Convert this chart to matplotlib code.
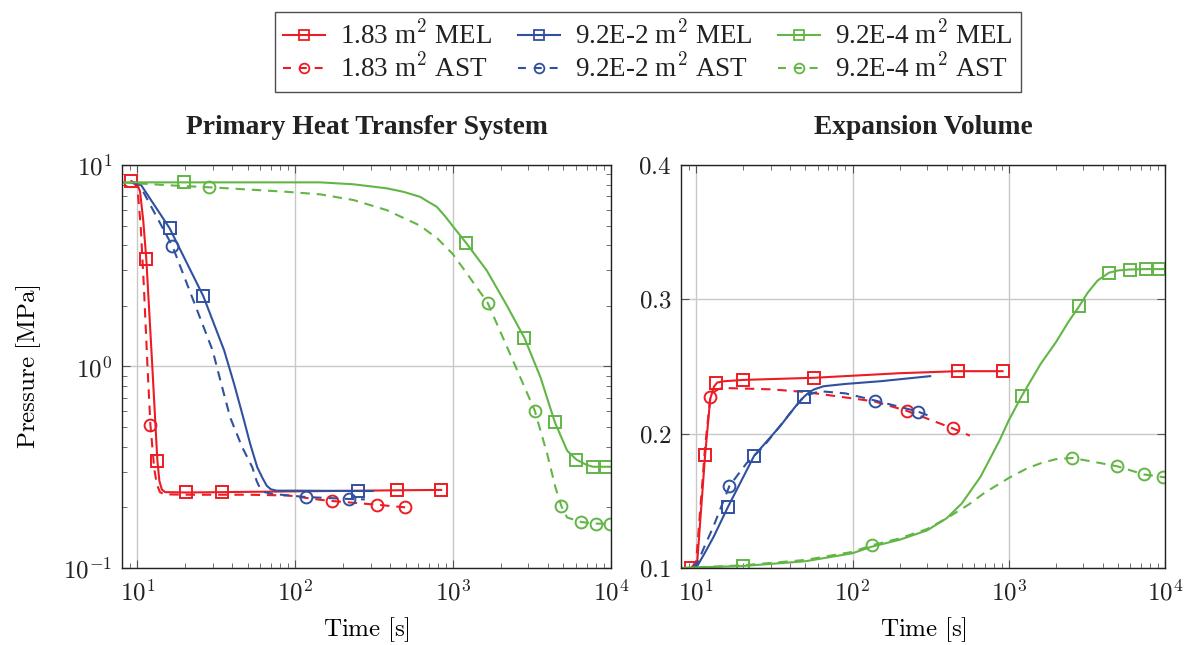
import numpy as np
import matplotlib
matplotlib.use('Agg')
import matplotlib.pyplot as plt
from matplotlib.lines import Line2D
from matplotlib.ticker import LogLocator, NullFormatter, NullLocator, FuncFormatter

plt.rcParams['font.family'] = ['Liberation Serif', 'DejaVu Serif']
plt.rcParams['mathtext.fontset'] = 'cm'
plt.rcParams['mathtext.default'] = 'rm'
plt.rcParams['text.color'] = '#222222'

RED = '#ED1C24'
BLUE = '#3050A0'
GREEN = '#62B646'

labels = ['1.83 m$^2$ MEL', '9.2E-2 m$^2$ MEL', '9.2E-4 m$^2$ MEL',
          '1.83 m$^2$ AST', '9.2E-2 m$^2$ AST', '9.2E-4 m$^2$ AST']

# ---- Primary Heat Transfer System: pressure [MPa] ----
phts_red_mel_t = [9.16, 10.0, 10.4, 10.9, 11.4, 12.4, 13.4, 13.8, 14.3, 15.0, 20.4, 35, 100, 443, 840]
phts_red_mel_p = [8.32, 8.0, 7.4, 5.3, 3.41, 1.05, 0.34, 0.27, 0.245, 0.238, 0.237, 0.238, 0.240, 0.243, 0.244]
phts_red_ast_t = [9.16, 10.0, 10.5, 11.0, 11.6, 12.1, 12.8, 13.3, 13.9, 14.8, 20, 50, 90, 144, 171, 330, 497]
phts_red_ast_p = [8.32, 7.8, 5.0, 2.5, 1.0, 0.514, 0.31, 0.26, 0.238, 0.232, 0.231, 0.231, 0.229, 0.218, 0.215, 0.206, 0.200]
phts_blue_mel_t = [9.2, 10.4, 16.0, 26.2, 35.5, 41, 46.9, 52, 57.5, 62, 66, 70, 76, 100, 250, 310]
phts_blue_mel_p = [8.2, 8.1, 4.86, 2.23, 1.2, 0.82, 0.557, 0.41, 0.316, 0.28, 0.256, 0.246, 0.242, 0.242, 0.241, 0.241]
phts_blue_ast_t = [9.2, 10.3, 16.7, 30, 34, 38.8, 46, 53.5, 57, 60, 64, 72, 117, 220, 276]
phts_blue_ast_p = [8.2, 8.0, 3.95, 1.2, 0.82, 0.557, 0.40, 0.316, 0.27, 0.248, 0.238, 0.233, 0.225, 0.220, 0.219]
phts_green_mel_t = [8, 20, 144, 234, 380, 485, 618, 698, 789, 889, 1000, 1205, 1632, 2188, 2825, 3575, 4415,
                    5280, 6040, 7000, 7680, 9250, 10000]
phts_green_mel_p = [8.2, 8.2, 8.2, 8.02, 7.66, 7.36, 6.95, 6.56, 6.2, 5.57, 4.95, 4.12, 3.0, 2.01, 1.39, 0.885,
                    0.528, 0.382, 0.345, 0.325, 0.318, 0.318, 0.318]
phts_green_ast_t = [8, 15, 33.5, 88.5, 144, 234, 380, 618, 800, 1000, 1240, 1656, 2300, 3290, 3945, 4456, 4860,
                    5280, 6500, 8020, 10000]
phts_green_ast_p = [8.2, 7.95, 7.7, 7.36, 7.15, 6.7, 5.97, 5.0, 4.3, 3.6, 2.85, 2.07, 1.15, 0.604, 0.368, 0.25,
                    0.202, 0.178, 0.169, 0.166, 0.166]
# marker positions
phts_red_mel_mt = [9.16, 11.4, 13.4, 20.4, 34.5, 443, 840]
phts_red_mel_mp = [8.32, 3.41, 0.34, 0.237, 0.238, 0.243, 0.244]
phts_red_ast_mt = [12.1, 171, 330, 497]
phts_red_ast_mp = [0.514, 0.215, 0.206, 0.200]
phts_blue_mel_mt = [16.0, 26.2, 250]
phts_blue_mel_mp = [4.86, 2.23, 0.241]
phts_blue_ast_mt = [16.7, 117, 220]
phts_blue_ast_mp = [3.95, 0.225, 0.220]
phts_green_mel_mt = [19.8, 1205, 2825, 4415, 6040, 7680, 9250]
phts_green_mel_mp = [8.2, 4.12, 1.39, 0.528, 0.345, 0.318, 0.318]
phts_green_ast_mt = [28.6, 1656, 3290, 4860, 6500, 8020, 9800]
phts_green_ast_mp = [7.75, 2.07, 0.604, 0.202, 0.169, 0.166, 0.166]

# ---- Expansion Volume: pressure [MPa] ----
ev_red_mel_t = [9.3, 10.1, 11.4, 12.3, 13.0, 13.6, 15, 20, 57, 200, 471, 912]
ev_red_mel_p = [0.100, 0.101, 0.184, 0.226, 0.235, 0.238, 0.239, 0.240, 0.2416, 0.245, 0.2465, 0.2465]
ev_red_ast_t = [9.3, 10.0, 11.4, 12.3, 13.0, 13.8, 14.9, 30, 50, 138, 222, 437, 563]
ev_red_ast_p = [0.100, 0.105, 0.190, 0.227, 0.231, 0.233, 0.234, 0.233, 0.231, 0.224, 0.217, 0.204, 0.1985]
ev_blue_mel_t = [9.5, 10.1, 11.2, 12.9, 16.0, 23.5, 34.4, 43, 49, 53, 57, 65.3, 90, 150, 314]
ev_blue_mel_p = [0.100, 0.101, 0.110, 0.123, 0.1457, 0.1836, 0.2055, 0.220, 0.2275, 0.231, 0.233, 0.2353, 0.237,
                 0.239, 0.2428]
ev_blue_ast_t = [9.5, 10.3, 11.2, 12.9, 16.3, 21, 27, 40, 49, 62, 90, 140, 263, 307]
ev_blue_ast_p = [0.100, 0.105, 0.115, 0.131, 0.161, 0.178, 0.1905, 0.2154, 0.228, 0.2316, 0.230, 0.2246, 0.2164, 0.2134]
ev_green_mel_t = [8, 20, 50, 100, 134, 200, 300, 400, 500, 660, 873, 1000, 1210, 1600, 2000, 2400, 2825, 3200,
                  3700, 4375, 5000, 5940, 7510, 9080, 10000]
ev_green_mel_p = [0.100, 0.1015, 0.105, 0.111, 0.116, 0.121, 0.128, 0.137, 0.148, 0.168, 0.195, 0.210, 0.228,
                  0.252, 0.268, 0.283, 0.295, 0.305, 0.314, 0.3198, 0.3215, 0.3222, 0.3225, 0.3225, 0.3225]
ev_green_ast_t = [8, 20, 50, 100, 134, 200, 300, 400, 550, 700, 1000, 1300, 1600, 2000, 2550, 3500, 4940, 7330,
                  9750, 10000]
ev_green_ast_p = [0.100, 0.102, 0.106, 0.112, 0.117, 0.122, 0.129, 0.137, 0.147, 0.156, 0.167, 0.174, 0.178,
                  0.181, 0.1819, 0.179, 0.1757, 0.1696, 0.1676, 0.1675]
ev_red_mel_mt = [9.3, 11.4, 13.4, 20, 57, 471, 912]
ev_red_mel_mp = [0.100, 0.184, 0.238, 0.240, 0.2416, 0.2465, 0.2465]
ev_red_ast_mt = [12.3, 222, 437]
ev_red_ast_mp = [0.227, 0.217, 0.204]
ev_blue_mel_mt = [16.0, 23.5, 49]
ev_blue_mel_mp = [0.1457, 0.1836, 0.2275]
ev_blue_ast_mt = [16.3, 140, 263]
ev_blue_ast_mp = [0.161, 0.2246, 0.2164]
ev_green_mel_mt = [20, 1210, 2825, 4375, 5940, 7510, 9080]
ev_green_mel_mp = [0.1015, 0.228, 0.295, 0.3198, 0.3222, 0.3225, 0.3225]
ev_green_ast_mt = [134, 2550, 4940, 7330, 9750]
ev_green_ast_mp = [0.117, 0.1819, 0.1757, 0.1696, 0.1676]

phts = [
    (phts_red_mel_t, phts_red_mel_p, phts_red_mel_mt, phts_red_mel_mp, RED, '-', 's'),
    (phts_red_ast_t, phts_red_ast_p, phts_red_ast_mt, phts_red_ast_mp, RED, '--', 'o'),
    (phts_blue_mel_t, phts_blue_mel_p, phts_blue_mel_mt, phts_blue_mel_mp, BLUE, '-', 's'),
    (phts_blue_ast_t, phts_blue_ast_p, phts_blue_ast_mt, phts_blue_ast_mp, BLUE, '--', 'o'),
    (phts_green_mel_t, phts_green_mel_p, phts_green_mel_mt, phts_green_mel_mp, GREEN, '-', 's'),
    (phts_green_ast_t, phts_green_ast_p, phts_green_ast_mt, phts_green_ast_mp, GREEN, '--', 'o'),
]
ev = [
    (ev_red_mel_t, ev_red_mel_p, ev_red_mel_mt, ev_red_mel_mp, RED, '-', 's'),
    (ev_red_ast_t, ev_red_ast_p, ev_red_ast_mt, ev_red_ast_mp, RED, '--', 'o'),
    (ev_blue_mel_t, ev_blue_mel_p, ev_blue_mel_mt, ev_blue_mel_mp, BLUE, '-', 's'),
    (ev_blue_ast_t, ev_blue_ast_p, ev_blue_ast_mt, ev_blue_ast_mp, BLUE, '--', 'o'),
    (ev_green_mel_t, ev_green_mel_p, ev_green_mel_mt, ev_green_mel_mp, GREEN, '-', 's'),
    (ev_green_ast_t, ev_green_ast_p, ev_green_ast_mt, ev_green_ast_mp, GREEN, '--', 'o'),
]

fig = plt.figure(figsize=(11.94, 6.45), dpi=100)
ax1 = fig.add_axes([0.1022, 0.1194, 0.4095, 0.6248])
ax2 = fig.add_axes([0.5704, 0.1194, 0.4054, 0.6248])


def draw(ax, series):
    for t, p, mt, mp, c, ls, mk in series:
        line, = ax.plot(t, p, color=c, lw=1.5, solid_joinstyle='round')
        if ls == '--':
            line.set_dashes((4.5, 3.3))
        ax.plot(mt, mp, ls='none', marker=mk, ms=8.5, mfc='none', mec=c, mew=1.4)


draw(ax1, phts)
draw(ax2, ev)

for ax in (ax1, ax2):
    ax.set_xscale('log')
    ax.set_xlim(8, 1e4)
    ax.xaxis.set_major_locator(LogLocator(base=10, numticks=10))
    ax.xaxis.set_minor_locator(LogLocator(base=10, subs=np.arange(2, 10), numticks=20))
    ax.xaxis.set_major_formatter(FuncFormatter(lambda v, pos: r'$10^{%d}$' % round(np.log10(v))))
    ax.xaxis.set_minor_formatter(NullFormatter())
    ax.grid(True, which='major', color='#c8c8c8', lw=1.0)
    ax.tick_params(which='both', direction='in', top=True, right=True, colors='#555555',
                   labelcolor='#222222', labelsize=18)
    ax.tick_params(which='major', length=6, width=0.8)
    ax.tick_params(which='minor', length=3.5, width=0.6)
    ax.tick_params(axis='x', pad=8)
    ax.tick_params(axis='y', pad=7)
    for s in ax.spines.values():
        s.set_color('#222222')
        s.set_linewidth(1.0)
    ax.set_xlabel(r'$\mathrm{Time\ [s]}$', fontsize=18)
    ax.xaxis.set_label_coords(0.5, -0.117)

ax1.set_yscale('log')
ax1.set_ylim(0.1, 10)
ax1.yaxis.set_major_formatter(FuncFormatter(lambda v, pos: r'$10^{%d}$' % round(np.log10(v))))
ax1.yaxis.set_minor_locator(LogLocator(base=10, subs=np.arange(2, 10), numticks=20))
ax1.yaxis.set_minor_formatter(NullFormatter())
ax1.set_ylabel(r'$\mathrm{Pressure\ [MPa]}$', fontsize=18)
ax1.yaxis.set_label_coords(-0.162, 0.5)
ax1.set_title('Primary Heat Transfer System', fontweight='bold', fontsize=19.8, pad=22)

ax2.set_ylim(0.1, 0.4)
ax2.set_yticks([0.1, 0.2, 0.3, 0.4])
ax2.yaxis.set_major_formatter(FuncFormatter(lambda v, pos: r'$%.1f$' % v))
ax2.yaxis.set_minor_locator(NullLocator())
ax2.set_title('Expansion Volume', fontweight='bold', fontsize=19.8, pad=22)

handles = []
for c, ls, mk in [(RED, '-', 's'), (BLUE, '-', 's'), (GREEN, '-', 's'),
                  (RED, '--', 'o'), (BLUE, '--', 'o'), (GREEN, '--', 'o')]:
    h = Line2D([], [], color=c, lw=1.5, marker=mk, ms=7, mfc='none', mec=c, mew=1.3)
    if ls == '--':
        h.set_dashes((3.8, 3.8))
    handles.append(h)

# column-major order so each column holds one opening size
order = [0, 3, 1, 4, 2, 5]
leg = fig.legend([handles[i] for i in order], [labels[i] for i in order],
                 loc='upper center', bbox_to_anchor=(648 / 1194, 1 - 12 / 645), ncol=3,
                 fontsize=19.5, frameon=True, fancybox=False, edgecolor='#222222',
                 handlelength=1.55, handletextpad=0.55, columnspacing=0.95,
                 borderpad=0.3, labelspacing=0.14, borderaxespad=0)
leg.get_frame().set_linewidth(1.0)

fig.savefig('out.png', dpi=100)
